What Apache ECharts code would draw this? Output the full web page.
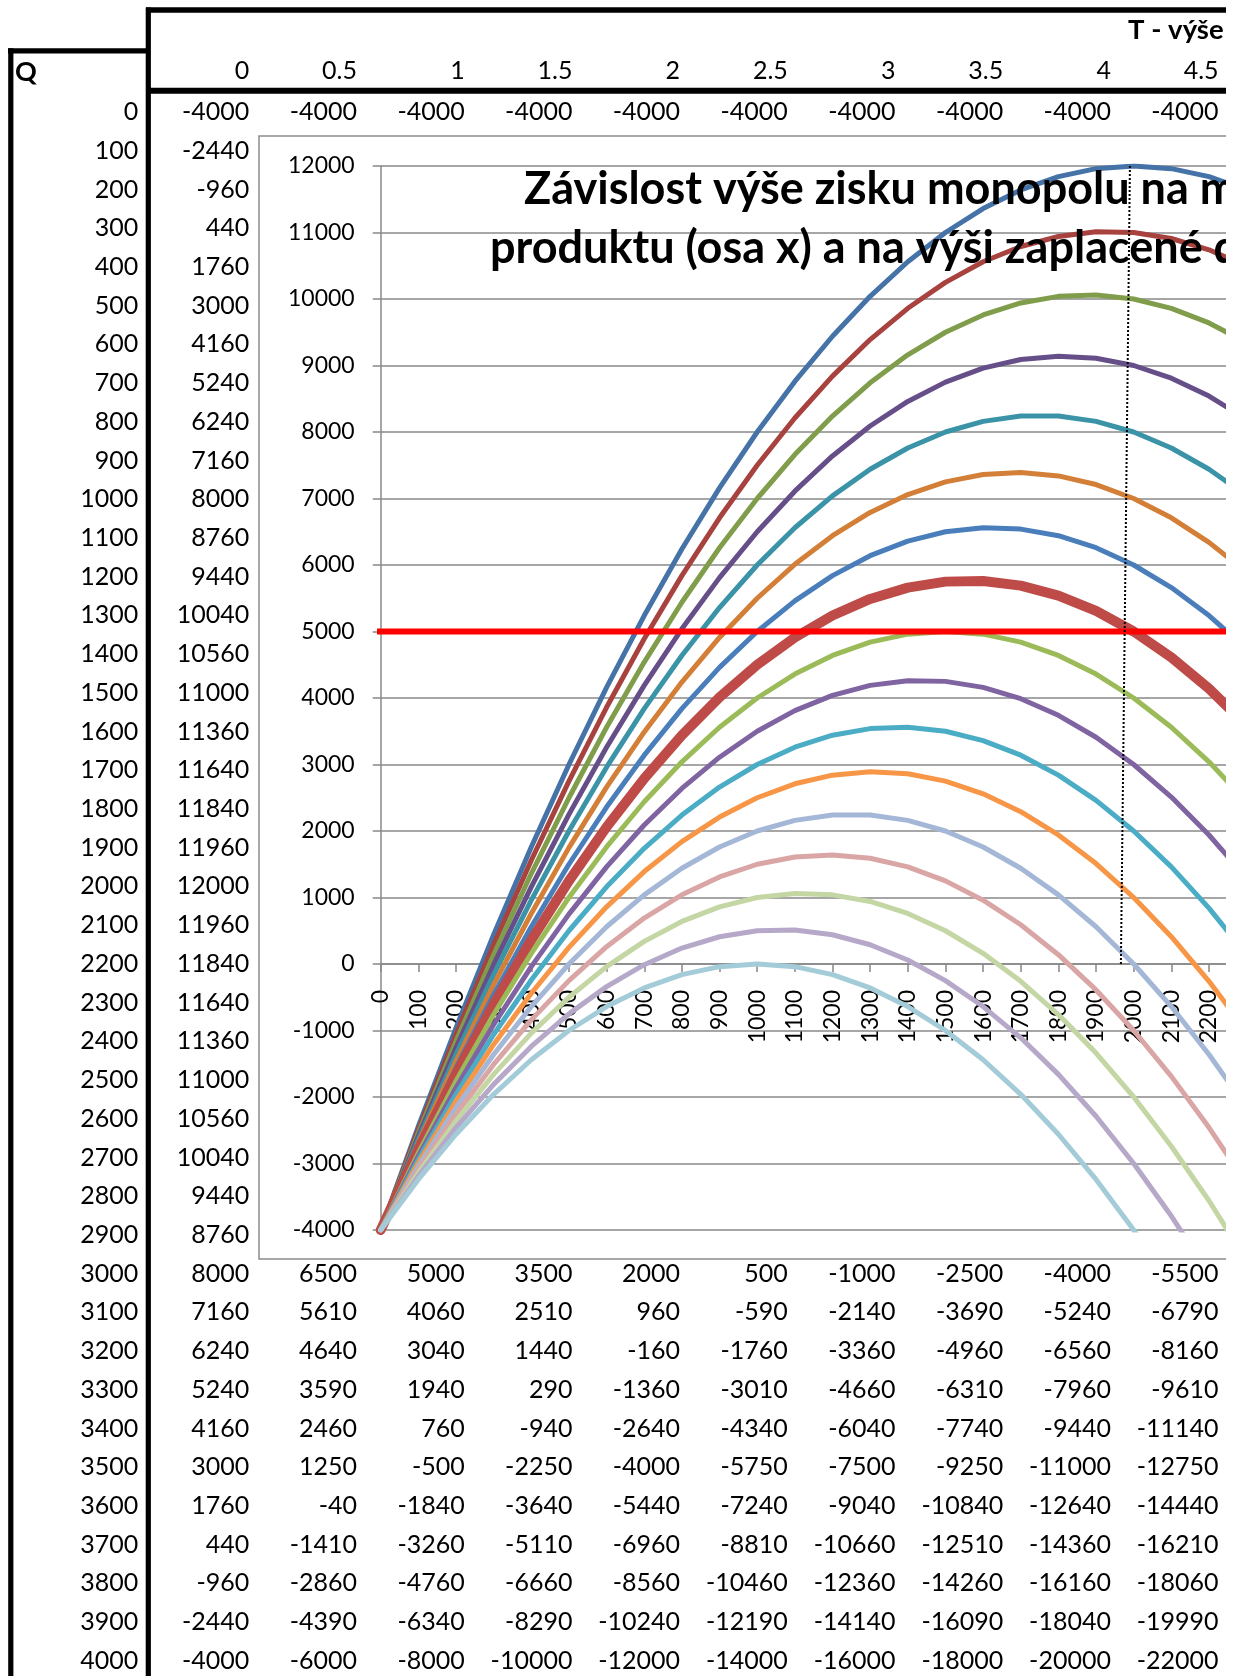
<!DOCTYPE html>
<html>
<head>
<meta charset="utf-8">
<script src="https://cdn.jsdelivr.net/npm/echarts@6/dist/echarts.min.js"></script>
<style>
html,body{margin:0;padding:0;background:#fff;overflow:hidden;}
#c{width:1226px;height:1676px;}
</style>
</head>
<body>
<div id="c"></div>
<script>
// ---------- DATA ----------
const Q = [0,100,200,300,400,500,600,700,800,900,1000,1100,1200,1300,1400,1500,1600,1700,1800,1900,2000,2100,2200,2300,2400,2500,2600,2700,2800,2900,3000,3100,3200,3300,3400,3500,3600,3700,3800,3900,4000];
const T = [0,0.5,1,1.5,2,2.5,3,3.5,4,4.5,5,5.5,6,6.5,7,7.5,8];

const zisk_T0   = [-4000,-2440,-960,440,1760,3000,4160,5240,6240,7160,8000,8760,9440,10040,10560,11000,11360,11640,11840,11960,12000,11960,11840,11640,11360,11000,10560,10040,9440,8760,8000,7160,6240,5240,4160,3000,1760,440,-960,-2440,-4000];
const zisk_T0_5 = [-4000,-2490,-1060,290,1560,2750,3860,4890,5840,6710,7500,8210,8840,9390,9860,10250,10560,10790,10940,11010,11000,10910,10740,10490,10160,9750,9260,8690,8040,7310,6500,5610,4640,3590,2460,1250,-40,-1410,-2860,-4390,-6000];
const zisk_T1   = [-4000,-2540,-1160,140,1360,2500,3560,4540,5440,6260,7000,7660,8240,8740,9160,9500,9760,9940,10040,10060,10000,9860,9640,9340,8960,8500,7960,7340,6640,5860,5000,4060,3040,1940,760,-500,-1840,-3260,-4760,-6340,-8000];
const zisk_T1_5 = [-4000,-2590,-1260,-10,1160,2250,3260,4190,5040,5810,6500,7110,7640,8090,8460,8750,8960,9090,9140,9110,9000,8810,8540,8190,7760,7250,6660,5990,5240,4410,3500,2510,1440,290,-940,-2250,-3640,-5110,-6660,-8290,-10000];
const zisk_T2   = [-4000,-2640,-1360,-160,960,2000,2960,3840,4640,5360,6000,6560,7040,7440,7760,8000,8160,8240,8240,8160,8000,7760,7440,7040,6560,6000,5360,4640,3840,2960,2000,960,-160,-1360,-2640,-4000,-5440,-6960,-8560,-10240,-12000];
const zisk_T2_5 = [-4000,-2690,-1460,-310,760,1750,2660,3490,4240,4910,5500,6010,6440,6790,7060,7250,7360,7390,7340,7210,7000,6710,6340,5890,5360,4750,4060,3290,2440,1510,500,-590,-1760,-3010,-4340,-5750,-7240,-8810,-10460,-12190,-14000];
const zisk_T3   = [-4000,-2740,-1560,-460,560,1500,2360,3140,3840,4460,5000,5460,5840,6140,6360,6500,6560,6540,6440,6260,6000,5660,5240,4740,4160,3500,2760,1940,1040,60,-1000,-2140,-3360,-4660,-6040,-7500,-9040,-10660,-12360,-14140,-16000];
const zisk_T3_5 = [-4000,-2790,-1660,-610,360,1250,2060,2790,3440,4010,4500,4910,5240,5490,5660,5750,5760,5690,5540,5310,5000,4610,4140,3590,2960,2250,1460,590,-360,-1390,-2500,-3690,-4960,-6310,-7740,-9250,-10840,-12510,-14260,-16090,-18000];
const zisk_T4   = [-4000,-2840,-1760,-760,160,1000,1760,2440,3040,3560,4000,4360,4640,4840,4960,5000,4960,4840,4640,4360,4000,3560,3040,2440,1760,1000,160,-760,-1760,-2840,-4000,-5240,-6560,-7960,-9440,-11000,-12640,-14360,-16160,-18040,-20000];
const zisk_T4_5 = [-4000,-2890,-1860,-910,-40,750,1460,2090,2640,3110,3500,3810,4040,4190,4260,4250,4160,3990,3740,3410,3000,2510,1940,1290,560,-250,-1140,-2110,-3160,-4290,-5500,-6790,-8160,-9610,-11140,-12750,-14440,-16210,-18060,-19990,-22000];
const zisk_T5   = [-4000,-2940,-1960,-1060,-240,500,1160,1740,2240,2660,3000,3260,3440,3540,3560,3500,3360,3140,2840,2460,2000,1460,840,140,-640,-1500,-2440,-3460,-4560,-5740,-7000,-8340,-9760,-11260,-12840,-14500,-16240,-18060,-19960,-21940,-24000];
const zisk_T5_5 = [-4000,-2990,-2060,-1210,-440,250,860,1390,1840,2210,2500,2710,2840,2890,2860,2750,2560,2290,1940,1510,1000,410,-260,-1010,-1840,-2750,-3740,-4810,-5960,-7190,-8500,-9890,-11360,-12910,-14540,-16250,-18040,-19910,-21860,-23890,-26000];
const zisk_T6   = [-4000,-3040,-2160,-1360,-640,0,560,1040,1440,1760,2000,2160,2240,2240,2160,2000,1760,1440,1040,560,0,-640,-1360,-2160,-3040,-4000,-5040,-6160,-7360,-8640,-10000,-11440,-12960,-14560,-16240,-18000,-19840,-21760,-23760,-25840,-28000];
const zisk_T6_5 = [-4000,-3090,-2260,-1510,-840,-250,260,690,1040,1310,1500,1610,1640,1590,1460,1250,960,590,140,-390,-1000,-1690,-2460,-3310,-4240,-5250,-6340,-7510,-8760,-10090,-11500,-12990,-14560,-16210,-17940,-19750,-21640,-23610,-25660,-27790,-30000];
const zisk_T7   = [-4000,-3140,-2360,-1660,-1040,-500,-40,340,640,860,1000,1060,1040,940,760,500,160,-260,-760,-1340,-2000,-2740,-3560,-4460,-5440,-6500,-7640,-8860,-10160,-11540,-13000,-14540,-16160,-17860,-19640,-21500,-23440,-25460,-27560,-29740,-32000];
const zisk_T7_5 = [-4000,-3190,-2460,-1810,-1240,-750,-340,-10,240,410,500,510,440,290,60,-250,-640,-1110,-1660,-2290,-3000,-3790,-4660,-5610,-6640,-7750,-8940,-10210,-11560,-12990,-14500,-16090,-17760,-19510,-21340,-23250,-25240,-27310,-29460,-31690,-34000];
const zisk_T8   = [-4000,-3240,-2560,-1960,-1440,-1000,-640,-360,-160,-40,0,-40,-160,-360,-640,-1000,-1440,-1960,-2560,-3240,-4000,-4840,-5760,-6760,-7840,-9000,-10240,-11560,-12960,-14440,-16000,-17640,-19360,-21160,-23040,-25000,-27040,-29160,-31360,-33640,-36000];

// reference line (profit level 5000) and hand-drawn dotted marker, in data units (Q, profit)
const redLine    = [[-17, 5000], [4000, 5000]];
const dottedLine = [[1990, 12000], [1966, 0]];

const titleLine1 = 'Závislost výše zisku monopolu na množství';
const titleLine2 = 'produktu (osa x) a na výši zaplacené daně (křivky)';
const headerT = 'T - výše daně';
const headerQ = 'Q';

// ---------- BUILD ----------
const profits = [zisk_T0, zisk_T0_5, zisk_T1, zisk_T1_5, zisk_T2, zisk_T2_5, zisk_T3, zisk_T3_5, zisk_T4,
                 zisk_T4_5, zisk_T5, zisk_T5_5, zisk_T6, zisk_T6_5, zisk_T7, zisk_T7_5, zisk_T8];
const colors = ['#4572A7','#A7423F','#809D4B','#664F88','#3B93A8','#D47F38',
                '#4A7EBB','#BE4B48','#9BBB59','#8064A2','#4BACC6','#F79646',
                '#A5B7D7','#D9A6A5','#C3D6A4','#B6A8C8','#A3CBD8'];

const FONT = "Lato, 'Liberation Sans', Arial, sans-serif";
const els = [];

// sheet cell text (drawn under the embedded chart)
const rowY0 = 112, rowH = 38.72, colX0 = 249.3, colW = 107.7, qX = 138.3, sheetCols = 10;
function cellText(txt, x, y, bold, align, size) {
  els.push({type:'text', z:-2, silent:true, x:x, y:y,
    style:{text:String(txt), fontSize:size || 25, fontFamily:FONT, fontWeight: bold ? 'bold' : 'normal',
           fill:'#000', align: align || 'right', verticalAlign:'middle'}});
}
cellText(headerQ, 15, 72, true, 'left', 27);
cellText(headerT, 1128, 30, true, 'left', 27.5);
for (let k = 0; k < sheetCols; k++) cellText(T[k], colX0 + colW * k, 71);
for (let r = 0; r < Q.length; r++) {
  const y = rowY0 + rowH * r;
  cellText(Q[r], qX, y);
  for (let k = 0; k < sheetCols; k++) cellText(profits[k][r], colX0 + colW * k, y);
}

// chart area background with border
els.push({type:'rect', z:-1, silent:true, shape:{x:259, y:136, width:1800, height:1123},
  style:{fill:'#ffffff', stroke:'#8c8c8c', lineWidth:1.5}});

// thick sheet borders
function thick(x1,y1,x2,y2,w){ els.push({type:'line', z:10, silent:true, shape:{x1:x1,y1:y1,x2:x2,y2:y2}, style:{stroke:'#000', lineWidth:w}}); }
thick(146, 10, 1226, 10, 5.5);
thick(148.3, 7.5, 148.3, 1676, 5.2);
thick(8, 50.8, 150, 50.8, 5.2);
thick(10.8, 48.3, 10.8, 1676, 5.2);
thick(146, 90.8, 1226, 90.8, 6);

const series = profits.map((d, k) => ({
  type:'line', name:'T = ' + T[k], data:d, xAxisIndex:0, yAxisIndex:0,
  symbol:'none', showSymbol:false, z:2,
  lineStyle:{color:colors[k], width: k === 7 ? 10 : 5, cap:'round', join:'round'},
  itemStyle:{color:colors[k]}
}));
series.push({type:'line', name:'Zisk 5000', data:redLine, xAxisIndex:1, yAxisIndex:0, symbol:'none', clip:false, z:3,
  lineStyle:{color:'#ff0000', width:6}});
series.push({type:'line', name:'Q*', data:dottedLine, xAxisIndex:1, yAxisIndex:0, symbol:'none', z:4,
  lineStyle:{color:'#000', width:2, type:[2,2]}});

const axisGray = '#888888';
const gridTop = 166, gridHeight = 1064, yMin = -4000, yMax = 12000;
// shift the category axis up to the zero line of the value axis
const zeroShift = -gridHeight * (0 - yMin) / (yMax - yMin);

const option = {
  animation:false,
  backgroundColor:'#ffffff',
  title:[
    {text:titleLine1, left:524, top:167, padding:0, z:8,
     textStyle:{fontSize:45, fontWeight:'bold', fontFamily:FONT, color:'#000'}},
    {text:titleLine2, left:490, top:226, padding:0, z:8,
     textStyle:{fontSize:45, fontWeight:'bold', fontFamily:FONT, color:'#000'}}
  ],
  grid:{left:380.7, top:gridTop, width:1506, height:gridHeight, containLabel:false, outerBoundsMode:'none'},
  xAxis:[
    {type:'category', data:Q, boundaryGap:false, position:'bottom', offset:zeroShift,
     axisLine:{show:true, onZero:false, lineStyle:{color:axisGray, width:1.5}},
     axisTick:{show:true, interval:0, length:8, lineStyle:{color:axisGray, width:1.5}},
     axisLabel:{interval:0, rotate:90, margin:26, fontSize:23, fontFamily:FONT, color:'#000'},
     splitLine:{show:false}},
    {type:'value', min:0, max:4000, show:false}
  ],
  yAxis:{type:'value', min:yMin, max:yMax, interval:1000,
     axisLine:{show:true, onZero:false, lineStyle:{color:axisGray, width:1.5}},
     axisTick:{show:true, length:8, lineStyle:{color:axisGray, width:1.5}},
     axisLabel:{margin:26, fontSize:23, fontFamily:FONT, color:'#000', padding:[3,0,0,0],
                formatter:function(v){ return String(v); }},
     splitLine:{show:true, lineStyle:{color:axisGray, width:1.5}}},
  graphic:{elements:els},
  series:series
};

const chart = echarts.init(document.getElementById('c'), null, {renderer:'canvas'});
chart.setOption(option);
</script>
</body>
</html>
